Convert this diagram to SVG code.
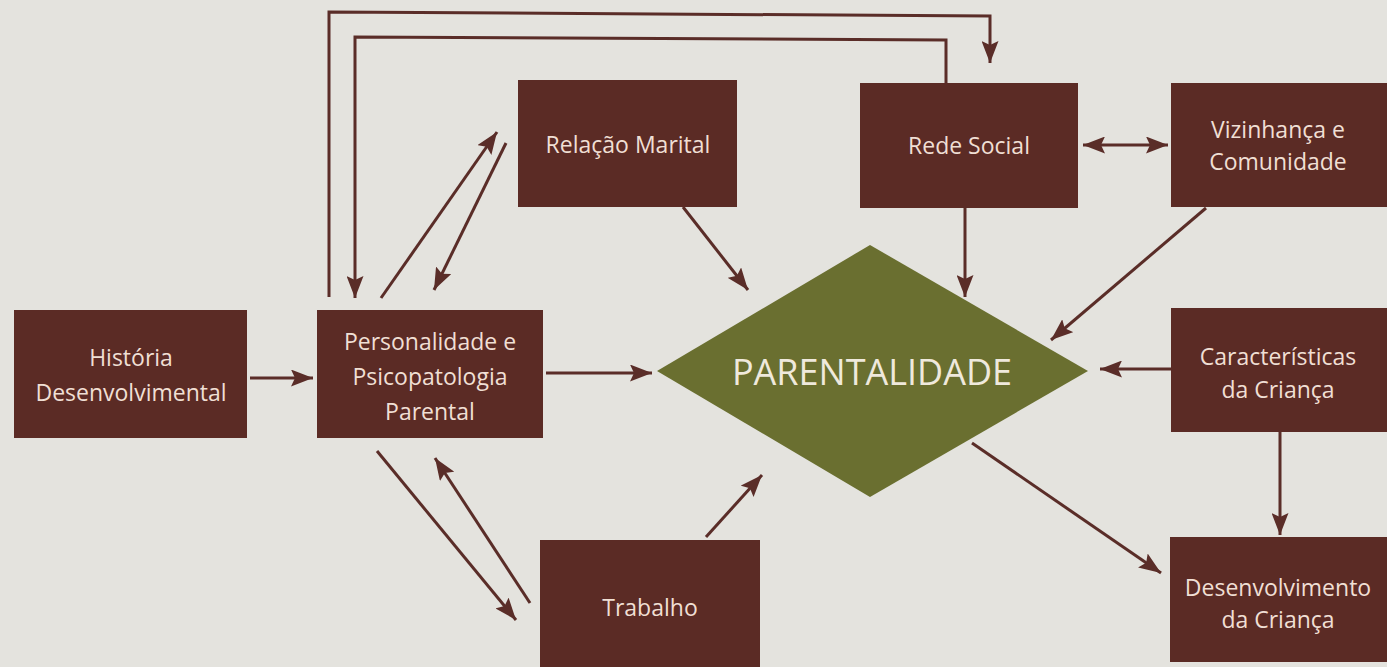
<svg xmlns="http://www.w3.org/2000/svg" width="1387" height="667" viewBox="0 0 1387 667">
<style>
.box{fill:#5b2b25}
.lbl{font-family:"Open Sans","Liberation Sans",sans-serif;font-size:23px;fill:#f0dfd4;text-anchor:middle}
.big{font-family:"Open Sans","Liberation Sans",sans-serif;font-size:36px;fill:#efe9dc;text-anchor:middle}
.c{fill:none;stroke:#5a2d28;stroke-width:3}
.a{marker-end:url(#ah)}
.b{marker-start:url(#ahs);marker-end:url(#ah)}
</style>
<defs>
<marker id="ah" markerUnits="userSpaceOnUse" markerWidth="22" markerHeight="17" viewBox="0 0 22 17" refX="22" refY="8.5" orient="auto">
<path d="M0,0 L22,8.5 L0,17 L4,8.5 z" fill="#5a2d28"/>
</marker>
<marker id="ahs" markerUnits="userSpaceOnUse" markerWidth="22" markerHeight="17" viewBox="0 0 22 17" refX="0" refY="8.5" orient="auto">
<path d="M22,0 L0,8.5 L22,17 L18,8.5 z" fill="#5a2d28"/>
</marker>
</defs>
<rect width="1387" height="667" fill="#e4e3de"/>
<g id="connectors">
<polyline class="c a" points="329,297 329,12 990,16 990,63"/>
<polyline class="c a" points="946,83 946,40 355,37 355,298"/>
<line class="c a" x1="381" y1="298" x2="497" y2="132"/>
<line class="c a" x1="506" y1="143" x2="434" y2="290"/>
<line class="c a" x1="377" y1="451" x2="516" y2="620"/>
<line class="c a" x1="530" y1="603" x2="435" y2="458"/>
<line class="c a" x1="706" y1="537" x2="762" y2="475"/>
<line class="c a" x1="683" y1="207" x2="748" y2="290"/>
<line class="c a" x1="546" y1="373" x2="652" y2="373"/>
<line class="c a" x1="250" y1="378" x2="313" y2="378"/>
<line class="c a" x1="965" y1="208" x2="965" y2="297"/>
<line class="c b" x1="1083" y1="145" x2="1168" y2="145"/>
<line class="c a" x1="1206" y1="208" x2="1051" y2="340"/>
<line class="c a" x1="1171" y1="369" x2="1100" y2="369"/>
<line class="c a" x1="1280" y1="432" x2="1280" y2="535"/>
<line class="c a" x1="972" y1="443" x2="1161" y2="573"/>
</g>
<g id="parentalidade">
<polygon points="657,371 870,245 1088,371 870,497" fill="#6a6f30"/>
<text class="big" x="872" y="385">PARENTALIDADE</text>
</g>
<g id="historia">
<rect class="box" x="14" y="310" width="233" height="128"/>
<text class="lbl" x="131" y="366">História</text>
<text class="lbl" x="131" y="401">Desenvolvimental</text>
</g>
<g id="personalidade">
<rect class="box" x="317" y="310" width="226" height="128"/>
<text class="lbl" x="430" y="350">Personalidade e</text>
<text class="lbl" x="430" y="385">Psicopatologia</text>
<text class="lbl" x="430" y="420">Parental</text>
</g>
<g id="relacao">
<rect class="box" x="518" y="80" width="219" height="127"/>
<text class="lbl" x="628" y="153">Relação Marital</text>
</g>
<g id="rede">
<rect class="box" x="860" y="83" width="218" height="125"/>
<text class="lbl" x="969" y="154">Rede Social</text>
</g>
<g id="vizinhanca">
<rect class="box" x="1171" y="83" width="216" height="124"/>
<text class="lbl" x="1278" y="138">Vizinhança e</text>
<text class="lbl" x="1278" y="170">Comunidade</text>
</g>
<g id="caracteristicas">
<rect class="box" x="1171" y="308" width="216" height="124"/>
<text class="lbl" x="1278" y="365">Características</text>
<text class="lbl" x="1278" y="398">da Criança</text>
</g>
<g id="desenvolvimento">
<rect class="box" x="1170" y="537" width="217" height="125"/>
<text class="lbl" x="1278" y="596">Desenvolvimento</text>
<text class="lbl" x="1278" y="628">da Criança</text>
</g>
<g id="trabalho">
<rect class="box" x="540" y="540" width="220" height="127"/>
<text class="lbl" x="650" y="616">Trabalho</text>
</g>
</svg>
